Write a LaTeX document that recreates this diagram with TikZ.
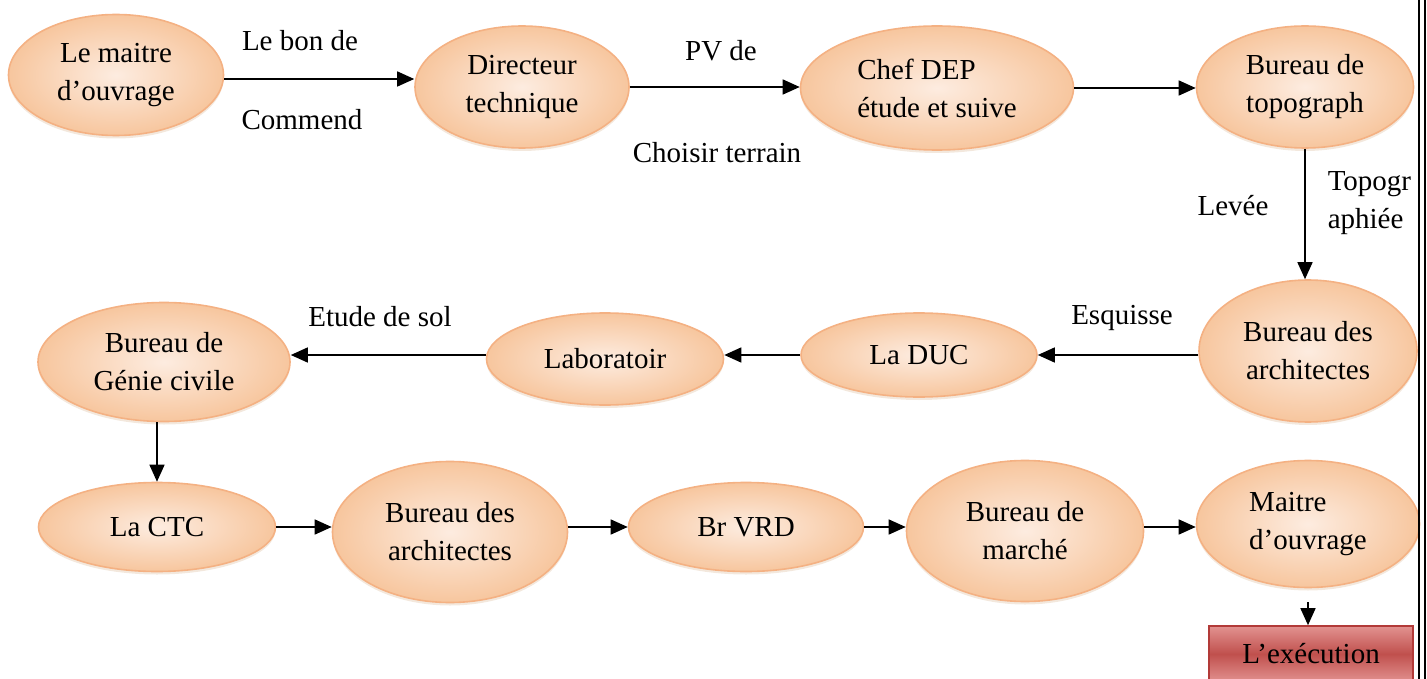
\documentclass[tikz,border=0pt]{standalone}
\usepackage{fontspec}
\setmainfont{Liberation Serif}
\usepackage{tikz}
\usetikzlibrary{shapes.geometric, arrows.meta, shadows}

\definecolor{ovalin}{RGB}{253,236,224}
\definecolor{ovalout}{RGB}{247,198,158}
\definecolor{ovalline}{RGB}{244,177,131}
\definecolor{exectop}{RGB}{226,146,144}
\definecolor{execmid}{RGB}{192,80,77}
\definecolor{execline}{RGB}{178,58,56}

\begin{document}
\begin{tikzpicture}[x=1pt, y=-1pt, line width=1.5pt,
    every node/.style={font=\fontsize{29}{38}\selectfont},
    oval/.style={ellipse, draw=ovalline, line width=1.6pt, inner sep=0pt,
        inner color=ovalin, outer color=ovalout, align=center,
        drop shadow={shadow xshift=0pt, shadow yshift=-3pt, fill=brown, opacity=0.18}},
    execbox/.style={rectangle, draw=execline, line width=1.6pt, inner sep=0pt,
        top color=exectop, bottom color=exectop, middle color=execmid,
        minimum width=204pt, minimum height=56pt},
    lbl/.style={inner sep=0pt},
    flow/.style={line width=1.5pt, -{Triangle[length=17pt, width=15pt]}}];

    \useasboundingbox (0,0) rectangle (1427,679);

    % first row
    \node[oval, minimum width=215pt, minimum height=121pt] (maitre) at (116,75) {Le maitre\\d’ouvrage};
    \node[oval, minimum width=214pt, minimum height=122pt] (direct) at (522,87) {Directeur\\technique};
    \node[oval, minimum width=273pt, minimum height=124pt, align=left] (chef) at (937,88) {Chef DEP\\étude et suive};
    \node[oval, minimum width=217pt, minimum height=122pt] (topo) at (1305,87) {Bureau de\\topograph};

    % second row
    \node[oval, minimum width=218pt, minimum height=142pt] (archi) at (1308,351) {Bureau des\\architectes};
    \node[oval, minimum width=236pt, minimum height=84pt] (duc) at (919,355) {La DUC};
    \node[oval, minimum width=237pt, minimum height=92pt] (labo) at (605,359) {Laboratoir};
    \node[oval, minimum width=252pt, minimum height=119pt] (genie) at (164,362) {Bureau de\\Génie civile};

    % third row
    \node[oval, minimum width=237pt, minimum height=89pt] (ctc) at (157,527) {La CTC};
    \node[oval, minimum width=235pt, minimum height=141pt] (archib) at (450,532) {Bureau des\\architectes};
    \node[oval, minimum width=235pt, minimum height=89pt] (vrd) at (746,527) {Br VRD};
    \node[oval, minimum width=237pt, minimum height=141pt] (marche) at (1025,531) {Bureau de\\marché};
    \node[oval, minimum width=223pt, minimum height=127pt, align=left] (maitreb) at (1308,524) {Maitre\\d’ouvrage};
    \node[execbox] (exec) at (1311,654) {L’exécution};

    % labels
    \node[lbl] (bon) at (300,41) {Le bon de};
    \node[lbl] (commend) at (302,120) {Commend};
    \node[lbl] (pv) at (721,51) {PV de};
    \node[lbl] (choisir) at (717,153) {Choisir terrain};
    \node[lbl] (levee) at (1233,206) {Levée};
    \node[lbl, anchor=west, align=left] (topogr) at (1327,203) {Topogr\\aphiée};
    \node[lbl] (sol) at (380,317) {Etude de sol};
    \node[lbl] (esquisse) at (1122,318) {Esquisse};

    % arrows
    \draw[flow] ([yshift=-4pt]maitre.east) -- ([yshift=-4pt]maitre.east -| direct.west);
    \draw[flow] (direct.east) -- (direct.east -| chef.west);
    \draw[flow] (chef.east) -- (chef.east -| topo.west);
    \draw[flow] (topo.south) -- (topo.south |- archi.north);
    \draw[flow] (archi.west |- duc.east) -- (duc.east);
    \draw[flow] (duc.west) -- (duc.west -| labo.east);
    \draw[flow] ([yshift=4pt]labo.west) -- ([yshift=4pt]labo.west -| genie.east);
    \draw[flow] (ctc.north |- genie.south) -- (ctc.north);
    \draw[flow] (ctc.east) -- (ctc.east -| archib.west);
    \draw[flow] (vrd.west -| archib.east) -- (vrd.west);
    \draw[flow] (vrd.east) -- (vrd.east -| marche.west);
    \draw[flow] (vrd.east -| marche.east) -- (vrd.east -| maitreb.west);
    \draw[flow, shorten <=14pt] (maitreb.south) -- (maitreb.south |- exec.north);

    % right margin
    \draw[line width=1.8pt] (1419,0) -- (1419,679);
    \draw[line width=1.8pt] (1425,0) -- (1425,679);
\end{tikzpicture}
\end{document}
